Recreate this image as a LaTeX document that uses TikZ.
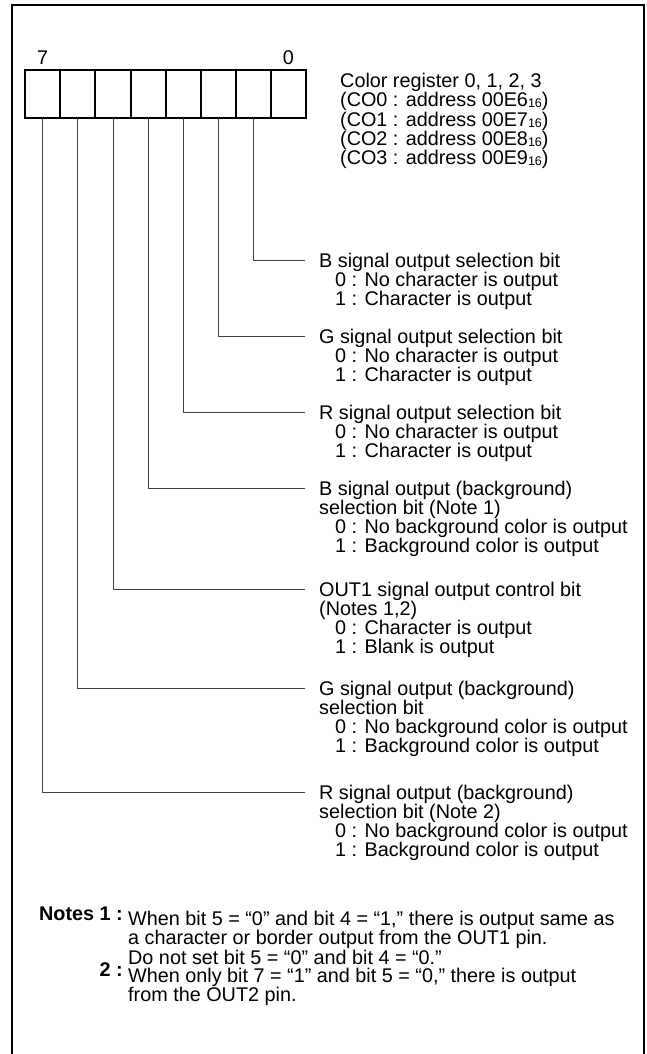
\documentclass[tikz,border=0pt]{standalone}
\usepackage{fontspec}
\setmainfont{Liberation Sans}
\usetikzlibrary{positioning}

\newcommand{\hexsub}{\raisebox{-1pt}{\fontsize{12.5}{12.5}\selectfont 16}}
\newcommand{\opt}{\hspace*{16pt}}
\newcommand{\topline}{\rule{0pt}{15pt}}

\begin{document}
\begin{tikzpicture}[x=1pt,y=-1pt,
	cell/.style={draw,line width=2pt,minimum width=35.1pt,minimum height=48.3pt,inner sep=0pt,outer sep=0pt},
	lead/.style={line width=0.9pt,black!75},
	desc/.style={anchor=north west,align=left,inner sep=0pt,font=\fontsize{19.8}{19}\selectfont},
	bitno/.style={anchor=base,inner sep=0pt,font=\fontsize{19.8}{19}\selectfont},
	notetag/.style={anchor=base east,inner sep=0pt,font=\fontsize{19.8}{19}\selectfont\bfseries}]
%
	\useasboundingbox (0,0) rectangle (647,1054);
	\draw[line width=2.4pt] (12,1060) -- (12,5) -- (644,5) -- (644,1060);
%
	\foreach \i in {0,...,7}
		\node[cell] (b\i) at ({306-35.1*(\i+0.5)},94.2) {};
	\node[bitno] (n7) at ([yshift=6pt]b7.north) {7};
	\node[bitno] (n0) at ([yshift=6pt]b0.north) {0};
%
	\node[desc,font=\fontsize{19.8}{18}\selectfont] (lreg) at (340,72) {\topline Color register 0, 1, 2, 3\\
		(CO0 : address 00E6\hexsub)\\
		(CO1 : address 00E7\hexsub)\\
		(CO2 : address 00E8\hexsub)\\
		(CO3 : address 00E9\hexsub)};
%
	\node[desc] (lB) at (319,252) {\topline B signal output selection bit\\
		\opt 0 : No character is output\\
		\opt 1 : Character is output};
	\node[desc] (lG) at (319,328) {\topline G signal output selection bit\\
		\opt 0 : No character is output\\
		\opt 1 : Character is output};
	\node[desc] (lR) at (319,404) {\topline R signal output selection bit\\
		\opt 0 : No character is output\\
		\opt 1 : Character is output};
	\node[desc] (lBbg) at (319,480) {\topline B signal output (background)\\
		selection bit (Note 1)\\
		\opt 0 : No background color is output\\
		\opt 1 : Background color is output};
	\node[desc] (lOut) at (319,581) {\topline OUT1 signal output control bit\\
		(Notes 1,2)\\
		\opt 0 : Character is output\\
		\opt 1 : Blank is output};
	\node[desc] (lGbg) at (319,680) {\topline G signal output (background)\\
		selection bit\\
		\opt 0 : No background color is output\\
		\opt 1 : Background color is output};
	\node[desc] (lRbg) at (319,784) {\topline R signal output (background)\\
		selection bit (Note 2)\\
		\opt 0 : No background color is output\\
		\opt 1 : Background color is output};
%
	\draw[lead] (b1.south) |- ([xshift=-14pt,yshift=-8pt]lB.north west);
	\draw[lead] (b2.south) |- ([xshift=-14pt,yshift=-8pt]lG.north west);
	\draw[lead] (b3.south) |- ([xshift=-14pt,yshift=-8pt]lR.north west);
	\draw[lead] (b4.south) |- ([xshift=-14pt,yshift=-8pt]lBbg.north west);
	\draw[lead] (b5.south) |- ([xshift=-14pt,yshift=-8pt]lOut.north west);
	\draw[lead] (b6.south) |- ([xshift=-14pt,yshift=-8pt]lGbg.north west);
	\draw[lead] (b7.south) |- ([xshift=-14pt,yshift=-8pt]lRbg.north west);
%
	\node[desc,font=\fontsize{19.8}{18.4}\selectfont] (note1) at (128,910) {\topline When bit 5 = “0” and bit 4 = “1,” there is output same as\\
		a character or border output from the OUT1 pin.\\
		Do not set bit 5 = “0” and bit 4 = “0.”};
	\node[desc,font=\fontsize{19.8}{18.4}\selectfont] (note2) at (128,967.5) {\rule{0pt}{13pt}When only bit 7 = “1” and bit 5 = “0,” there is output\\
		from the OUT2 pin.};
	\node[notetag] (tag1) at ([xshift=-5pt,yshift=-10pt]note1.north west) {Notes 1 :};
	\node[notetag] (tag2) at ([xshift=-5pt,yshift=-9pt]note2.north west) {2 :};
%
\end{tikzpicture}
\end{document}
